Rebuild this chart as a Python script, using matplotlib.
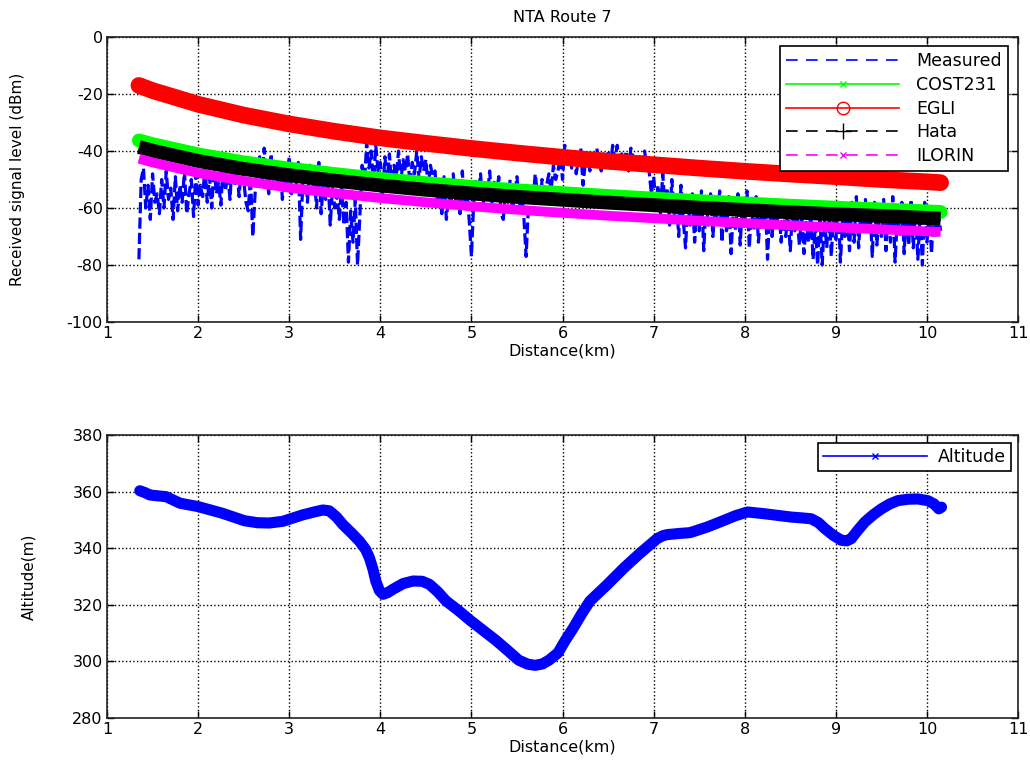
import numpy as np
import matplotlib
matplotlib.use("Agg")
import matplotlib.pyplot as plt
from matplotlib.lines import Line2D

# measured signal level (dBm), sampled evenly from 1.35 km to 10.15 km
measured = [
    -78, -50, -46, -60, -52, -64, -48, -58, -55, -62,
    -50, -60, -47, -57, -53, -64, -49, -61, -52, -58,
    -47, -62, -55, -50, -63, -48, -59, -52, -56, -46,
    -58, -49, -60, -45, -55, -51, -59, -44, -54, -48,
    -57, -43, -52, -47, -56, -45, -50, -58, -61, -49,
    -70, -55, -47, -42, -52, -39, -48, -55, -41, -50,
    -45, -53, -43, -57, -47, -51, -42, -55, -46, -52,
    -44, -71, -50, -47, -58, -45, -54, -49, -60, -44,
    -62, -51, -57, -48, -66, -53, -60, -55, -64, -52,
    -66, -58, -79, -61, -72, -57, -80, -63, -45, -52,
    -37, -46, -40, -52, -38, -47, -44, -56, -42, -50,
    -41, -53, -45, -49, -40, -51, -43, -47, -41, -52,
    -44, -48, -40, -50, -42, -47, -43, -53, -45, -49,
    -47, -58, -52, -62, -49, -64, -55, -59, -48, -57,
    -52, -62, -47, -60, -55, -64, -77, -58, -50, -55,
    -48, -60, -52, -56, -47, -58, -51, -55, -49, -62,
    -64, -53, -58, -50, -61, -55, -49, -60, -54, -63,
    -77, -60, -53, -58, -48, -55, -62, -50, -57, -52,
    -48, -54, -45, -50, -47, -42, -50, -38, -45, -41,
    -46, -40, -48, -43, -39, -52, -44, -41, -47, -40,
    -45, -39, -43, -47, -41, -44, -40, -46, -38, -43,
    -38, -45, -41, -44, -40, -47, -39, -43, -41, -45,
    -42, -46, -40, -45, -47, -55, -49, -58, -52, -62,
    -48, -60, -53, -66, -50, -62, -56, -70, -52, -64,
    -74, -58, -66, -55, -72, -60, -68, -54, -75, -58,
    -66, -55, -70, -60, -64, -54, -72, -58, -68, -56,
    -76, -60, -68, -55, -73, -58, -66, -54, -74, -60,
    -68, -56, -72, -62, -66, -57, -78, -61, -70, -58,
    -66, -60, -72, -58, -70, -62, -75, -60, -68, -64,
    -73, -62, -76, -65, -72, -61, -78, -66, -80, -63,
    -80, -64, -74, -60, -77, -62, -71, -58, -79, -64,
    -70, -62, -75, -58, -72, -56, -74, -60, -69, -57,
    -68, -60, -77, -58, -73, -62, -70, -57, -75, -60,
    -72, -56, -79, -63, -70, -58, -76, -60, -73, -57,
    -74, -60, -78, -62, -80, -58, -72, -61, -76, -60,
    -70, -62, -68,
]

# model predictions (dBm)
model_dist = [1.35, 1.5, 2, 2.5, 3, 3.5, 4, 4.5, 5, 5.5, 6, 6.5, 7, 7.5, 8,
              8.5, 9, 9.5, 10, 10.15]
cost231 = [-36.3, -37.6, -41.2, -44.0, -46.2, -48.1, -49.8, -51.3, -52.6, -53.8,
           -54.8, -55.8, -56.7, -57.6, -58.4, -59.2, -59.9, -60.5, -61.2, -61.4]
egli = [-17.0, -18.8, -23.6, -27.4, -30.5, -33.1, -35.4, -37.3, -39.1, -40.7,
        -42.2, -43.6, -44.8, -46.0, -47.1, -48.1, -49.0, -50.0, -50.8, -51.1]
hata = [-38.6, -39.9, -43.5, -46.3, -48.5, -50.4, -52.1, -53.6, -54.9, -56.1,
        -57.1, -58.1, -59.0, -59.9, -60.7, -61.5, -62.2, -62.8, -63.5, -63.7]
ilorin = [-42.7, -44.0, -47.7, -50.5, -52.9, -54.8, -56.5, -58.0, -59.4, -60.6,
          -61.7, -62.7, -63.6, -64.5, -65.3, -66.1, -66.8, -67.5, -68.2, -68.4]

# terrain altitude along the route
alt_dist = [1.36, 1.42, 1.47, 1.56, 1.65, 1.8, 2.0, 2.26, 2.51, 2.65, 2.78, 2.93,
            3.15, 3.30, 3.37, 3.44, 3.52, 3.59, 3.68, 3.77, 3.84, 3.88, 3.92,
            3.95, 3.99, 4.03, 4.08, 4.14, 4.25, 4.36, 4.46, 4.54, 4.63, 4.72,
            4.86, 4.99, 5.13, 5.27, 5.40, 5.52, 5.62, 5.70, 5.78, 5.85, 5.95,
            6.03, 6.12, 6.21, 6.30, 6.49, 6.67, 6.85, 7.04, 7.10, 7.15, 7.28,
            7.40, 7.59, 7.77, 7.90, 8.03, 8.21, 8.36, 8.51, 8.63, 8.73, 8.81,
            8.88, 8.97, 9.06, 9.12, 9.17, 9.24, 9.32, 9.41, 9.50, 9.59, 9.68,
            9.79, 9.90, 10.01, 10.08, 10.13, 10.16]
altitude = [360.3, 359.6, 358.8, 358.5, 358.2, 355.9, 354.7, 352.4, 349.7, 349.0,
            348.9, 349.5, 351.8, 353.0, 353.5, 353.2, 351.0, 348.3, 345.5, 342.5,
            339.5, 336.6, 332.5, 328.4, 325.0, 323.7, 324.3, 325.5, 327.5, 328.4,
            328.3, 327.2, 324.6, 321.4, 317.9, 314.4, 310.9, 307.4, 303.8, 300.4,
            299.0, 298.6, 299.1, 300.4, 303.0, 307.4, 311.9, 316.8, 321.3, 327.1,
            332.9, 338.2, 343.4, 344.4, 344.8, 345.2, 345.5, 347.5, 349.8, 351.5,
            352.8, 352.2, 351.6, 351.0, 350.7, 350.4, 349.0, 346.9, 344.6, 342.8,
            342.6, 343.4, 346.3, 349.3, 351.8, 353.9, 355.6, 356.8, 357.3, 357.4,
            356.8, 355.6, 353.9, 354.5]

plt.rcParams['font.family'] = ['DejaVu Sans']
plt.rcParams['font.size'] = 11
plt.rcParams['axes.unicode_minus'] = False

meas_dist = np.linspace(1.35, 10.15, len(measured))

fig = plt.figure(figsize=(10.3, 7.66), dpi=100)
ax1 = fig.add_axes([0.1039, 0.5796, 0.8845, 0.3721])
ax2 = fig.add_axes([0.1039, 0.0627, 0.8845, 0.3694])


def matlab_style(ax):
    ax.grid(True, linestyle=':', color='black', linewidth=1.0)
    ax.tick_params(direction='in', top=True, right=True, length=5, width=1,
                   labelsize=11.5, pad=3)
    for s in ax.spines.values():
        s.set_linewidth(1.2)
        s.set_color('#222222')
    ax.set_xlim(1, 11)
    ax.set_xticks(range(1, 12))


# top: received signal level
ax1.plot(meas_dist, measured, color='blue', linestyle='--', linewidth=2.3,
         dashes=(3.5, 1.3))
ax1.plot(model_dist, cost231, color='#00ff00', linewidth=10, solid_capstyle='round')
ax1.plot(model_dist, egli, color='red', linewidth=12, solid_capstyle='round')
ax1.plot(model_dist, hata, color='black', linewidth=10, solid_capstyle='butt')
ax1.plot(model_dist, ilorin, color='magenta', linewidth=7, solid_capstyle='butt')
matlab_style(ax1)
ax1.set_ylim(-100, 0)
ax1.set_yticks(range(-100, 1, 20))
ax1.set_title('NTA Route 7', fontsize=11.5, pad=11)
ax1.set_xlabel('Distance(km)', labelpad=2, fontsize=11.5)
ax1.set_ylabel('Received signal level (dBm)', fontsize=11)
ax1.yaxis.set_label_coords(-0.090, 0.5)

handles = [
    Line2D([], [], color='blue', linestyle='--', linewidth=1.2, dashes=(7, 5)),
    Line2D([], [], color='#00ff00', linestyle='-', marker='x', markersize=5, linewidth=1.2),
    Line2D([], [], color='red', linestyle='-', marker='o', markerfacecolor='none',
           markersize=9, linewidth=1.2),
    Line2D([], [], color='black', linestyle='--', marker='+', markersize=12,
           linewidth=1.2, dashes=(7, 5)),
    Line2D([], [], color='magenta', linestyle='--', marker='x', markersize=5,
           linewidth=1.2, dashes=(7, 5)),
]
leg = ax1.legend(handles, ['Measured', 'COST231', 'EGLI', 'Hata', 'ILORIN'],
                 loc='upper right', bbox_to_anchor=(0.989, 0.968), handlelength=6.5,
                 fancybox=False, framealpha=1, edgecolor='black', fontsize=12.5,
                 labelspacing=0.33, borderpad=0.35, handletextpad=1.0,
                 borderaxespad=0)
leg.get_frame().set_linewidth(1.2)

# bottom: altitude
ax2.plot(alt_dist, altitude, color='blue', linewidth=8, solid_capstyle='round',
         solid_joinstyle='round')
matlab_style(ax2)
ax2.set_ylim(280, 380)
ax2.set_yticks(range(280, 381, 20))
ax2.set_xlabel('Distance(km)', labelpad=2, fontsize=11.5)
ax2.set_ylabel('Altitude(m)', fontsize=11)
ax2.yaxis.set_label_coords(-0.077, 0.5)
alt_handle = Line2D([], [], color='blue', linestyle='-', marker='x', markersize=5,
                    linewidth=1.2)
leg2 = ax2.legend([alt_handle], ['Altitude'], loc='upper right',
                  bbox_to_anchor=(0.992, 0.972), handlelength=6, fancybox=False,
                  framealpha=1, edgecolor='black', fontsize=12.5, borderpad=0.3,
                  handletextpad=0.6, borderaxespad=0)
leg2.get_frame().set_linewidth(1.2)

fig.savefig('out.png', dpi=100)
